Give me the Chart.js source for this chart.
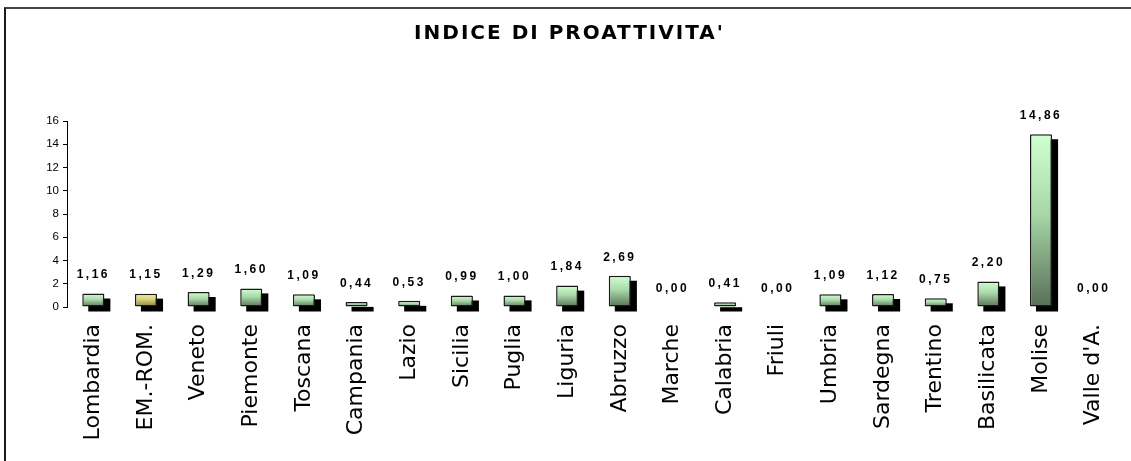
<!DOCTYPE html>
<html>
<head>
<meta charset="utf-8">
<script src="https://cdn.jsdelivr.net/npm/chart.js@4/dist/chart.umd.min.js"></script>
<style>
    html, body { margin: 0; padding: 0; background: #fff; overflow: hidden; }
    #wrap { position: relative; width: 1131px; height: 461px; }
    #frame {
        position: absolute; left: 4px; top: 7px; width: 1200px; height: 500px;
        border-left: 2px solid #1a1a1a; border-top: 2px solid #444;
    }
    canvas { position: absolute; left: 0; top: 0; }
</style>
</head>
<body>
<div id="wrap">
    <div id="frame"></div>
    <canvas id="chart" width="1131" height="461"></canvas>
</div>
<script>
// Data
const regions = ['Lombardia', 'EM.-ROM.', 'Veneto', 'Piemonte', 'Toscana', 'Campania', 'Lazio', 'Sicilia', 'Puglia', 'Liguria',
    'Abruzzo', 'Marche', 'Calabria', 'Friuli', 'Umbria', 'Sardegna', 'Trentino', 'Basilicata', 'Molise', "Valle d'A."];
const indexValues = [1.16, 1.15, 1.29, 1.60, 1.09, 0.44, 0.53, 0.99, 1.00, 1.84,
    2.69, 0.00, 0.41, 0.00, 1.09, 1.12, 0.75, 2.20, 14.86, 0.00];
const highlighted = ['EM.-ROM.'];
const yMin = 0, yMax = 16, yStep = 2;
const chartTitle = "INDICE DI PROATTIVITA'";

// Colors
const colors = {
    green: ['#d0ffd0', '#a9d9a9', '#586f58'],
    yellow: ['#f4f0a0', '#d6cf78', '#857d3c'],
    border: '#1a1a1a',
    shadow: '#000'
};

function barFill(c) {
    const chart = c.chart;
    if (!chart.chartArea || c.raw === undefined) return colors.green[1];
    const y = chart.scales.y;
    const top = y.getPixelForValue(c.raw);
    const base = y.getPixelForValue(0);
    const stops = highlighted.includes(regions[c.dataIndex]) ? colors.yellow : colors.green;
    const g = chart.ctx.createLinearGradient(0, top, 0, Math.max(base, top + 1));
    g.addColorStop(0, stops[0]);
    g.addColorStop(0.45, stops[1]);
    g.addColorStop(1, stops[2]);
    return g;
}

// Shadow behind each bar
const shadowPlugin = {
    id: 'barShadow',
    beforeDatasetsDraw(chart) {
        const ctx = chart.ctx;
        const meta = chart.getDatasetMeta(0);
        ctx.save();
        ctx.fillStyle = colors.shadow;
        meta.data.forEach((bar, i) => {
            if (!indexValues[i]) return;
            const { x, y, base, width } = bar.getProps(['x', 'y', 'base', 'width'], true);
            ctx.fillRect(x - width / 2 + 6, y + 5, width, base - y);
        });
        ctx.restore();
    }
};

// Value labels above bars
const valuePlugin = {
    id: 'valueLabels',
    afterDatasetsDraw(chart) {
        const ctx = chart.ctx;
        const meta = chart.getDatasetMeta(0);
        ctx.save();
        ctx.font = 'bold 12px "Liberation Sans", Arial, sans-serif';
        ctx.letterSpacing = '2.5px';
        ctx.fillStyle = '#000';
        ctx.textAlign = 'center';
        ctx.textBaseline = 'middle';
        meta.data.forEach((bar, i) => {
            const txt = indexValues[i].toFixed(2).replace('.', ',');
            ctx.fillText(txt, bar.x, bar.y - 18.5);
        });
        ctx.restore();
    }
};

// Title
const titlePlugin = {
    id: 'bigTitle',
    afterDraw(chart) {
        const ctx = chart.ctx;
        ctx.save();
        ctx.font = 'bold 20px "DejaVu Sans", Verdana, sans-serif';
        ctx.letterSpacing = '2px';
        ctx.fillStyle = '#000';
        ctx.textAlign = 'center';
        ctx.textBaseline = 'middle';
        ctx.fillText(chartTitle, chart.width / 2 + 4, 34);
        ctx.restore();
    }
};

new Chart(document.getElementById('chart'), {
    type: 'bar',
    data: {
        labels: regions,
        datasets: [{
            data: indexValues,
            backgroundColor: barFill,
            borderColor: colors.border,
            borderWidth: c => (c.raw ? 1.5 : 0),
            borderSkipped: false,
            borderRadius: 1,
            barPercentage: 0.42,
            categoryPercentage: 1
        }]
    },
    options: {
        responsive: false,
        animation: false,
        layout: { padding: { top: 121, right: 11, left: 0, bottom: 0 } },
        plugins: {
            legend: { display: false },
            title: { display: false },
            tooltip: { enabled: false }
        },
        scales: {
            y: {
                min: yMin,
                max: yMax,
                ticks: {
                    stepSize: yStep,
                    color: '#000',
                    padding: 4,
                    font: { family: '"Liberation Sans", Arial, sans-serif', size: 11.5 }
                },
                grid: { drawOnChartArea: false, tickLength: 4, color: '#000' },
                border: { color: '#000', width: 1 },
                afterFit: s => { s.width = 67; }
            },
            x: {
                grid: { display: false },
                border: { display: false },
                ticks: {
                    autoSkip: false,
                    minRotation: 90,
                    maxRotation: 90,
                    padding: 9,
                    color: '#000',
                    font: { family: '"DejaVu Sans", Verdana, sans-serif', size: 22 }
                },
                afterFit: s => { s.height = 154; }
            }
        }
    },
    plugins: [shadowPlugin, valuePlugin, titlePlugin]
});
</script>
</body>
</html>
